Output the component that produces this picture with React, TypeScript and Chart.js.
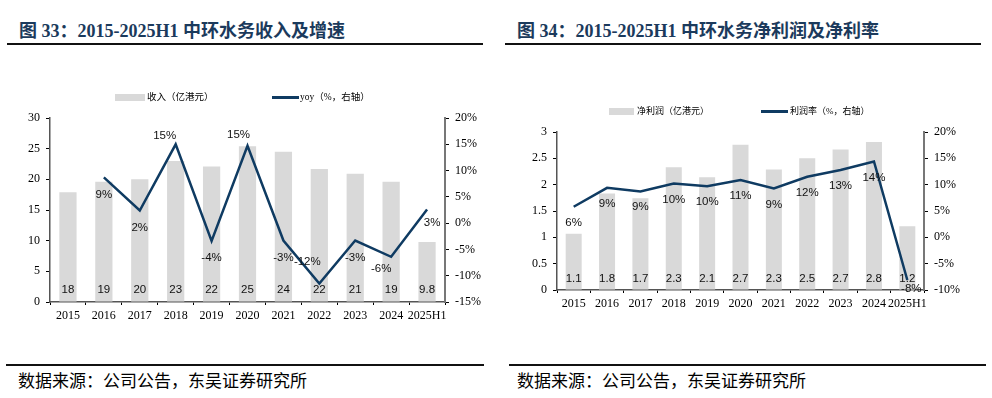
import React, { useEffect, useRef } from 'react';
import { Chart, registerables } from 'chart.js';

Chart.register(...registerables);

// ---------- Data ----------
const years = ['2015', '2016', '2017', '2018', '2019', '2020', '2021', '2022', '2023', '2024', '2025H1'];

// Chart 33: revenue (HK$100m) and yoy (%)
const revenue = [17.9, 19.6, 20.0, 23.0, 22.1, 25.4, 24.5, 21.7, 20.9, 19.6, 9.8];
const revenueLabels = ['18', '19', '20', '23', '22', '25', '24', '22', '21', '19', '9.8'];
const revenueYoy = [null, 8.7, 2.4, 15.0, -3.4, 14.7, -3.3, -11.5, -3.3, -6.4, 2.6];
const revenueYoyLabels = ['', '9%', '2%', '15%', '-4%', '15%', '-3%', '-12%', '-3%', '-6%', '3%'];

// Chart 34: net profit (HK$100m) and net margin (%)
const netProfit = [1.07, 1.83, 1.74, 2.33, 2.14, 2.76, 2.29, 2.5, 2.67, 2.81, 1.21];
const netProfitLabels = ['1.1', '1.8', '1.7', '2.3', '2.1', '2.7', '2.3', '2.5', '2.7', '2.8', '1.2'];
const netMargin = [5.8, 9.4, 8.7, 10.2, 9.7, 10.9, 9.3, 11.5, 12.8, 14.4, -8.1];
const netMarginLabels = ['6%', '9%', '9%', '10%', '10%', '11%', '9%', '12%', '13%', '14%', '-8%'];

// ---------- Styles ----------
const BAR = '#d9d9d9';
const LINE = '#0f3b62';
const TITLE = '#1b3a5c';
const SERIF = '"Liberation Serif", "Times New Roman", serif';
const CJK = '"Liberation Serif", "Noto Sans CJK SC", serif';

const leftLineOffsets: [number, number][] = [
  [0, 0], [0, 17], [0, 17], [-11, -8], [0, 17], [-9, -11], [0, 17], [-12, -22], [0, 17], [-10, 12], [5, 13],
];
const rightLineOffsets: [number, number][] = [
  [0, 16], [0, 16], [0, 15], [0, 16], [0, 16], [0, 16], [0, 16], [0, 16], [0, 16], [0, 16], [4, 9],
];

function makeLabelPlugin(barLabels: string[], lineLabels: string[], offsets: [number, number][], lift: number) {
  return {
    id: 'valueLabels',
    afterDatasetsDraw(chart: any) {
      const ctx = chart.ctx;
      ctx.save();
      ctx.font = '11.5px "Liberation Sans", Arial, sans-serif';
      ctx.fillStyle = '#111';
      ctx.textAlign = 'center';
      ctx.textBaseline = 'middle';
      const base = chart.scales.y.getPixelForValue(0);
      chart.getDatasetMeta(0).data.forEach((el: any, i: number) => {
        ctx.fillText(barLabels[i], el.x, base - lift);
      });
      chart.getDatasetMeta(1).data.forEach((el: any, i: number) => {
        const t = lineLabels[i];
        if (!t || el.skip) return;
        const [dx, dy] = offsets[i];
        ctx.fillText(t, el.x + dx, el.y + dy);
      });
      ctx.restore();
    },
  };
}

interface PanelCfg {
  bars: number[];
  line: (number | null)[];
  barLabels: string[];
  lineLabels: string[];
  offsets: [number, number][];
  lift: number;
  yMax: number;
  yStep: number;
  y1Min: number;
  y1Max: number;
  leftW: number;
  rightW: number;
  top: number;
  xH: number;
}

function ComboChart({ cfg, width, height }: { cfg: PanelCfg; width: number; height: number }) {
  const ref = useRef<HTMLCanvasElement | null>(null);
  useEffect(() => {
    if (!ref.current) return;
    const tickFont = { family: SERIF, size: 12 };
    const chart = new Chart(ref.current, {
      type: 'bar',
      data: {
        labels: years,
        datasets: [
          {
            type: 'bar',
            data: cfg.bars,
            backgroundColor: BAR,
            yAxisID: 'y',
            barPercentage: 0.48,
            categoryPercentage: 1,
            order: 2,
          } as any,
          {
            type: 'line',
            data: cfg.line,
            borderColor: LINE,
            backgroundColor: LINE,
            borderWidth: 2.5,
            pointRadius: 0,
            tension: 0,
            yAxisID: 'y1',
            order: 1,
          } as any,
        ],
      },
      options: {
        animation: false,
        responsive: false,
        maintainAspectRatio: false,
        layout: { padding: { top: cfg.top, left: 0, right: 0, bottom: 0 } },
        plugins: { legend: { display: false }, tooltip: { enabled: false } },
        scales: {
          x: {
            grid: { display: true, drawOnChartArea: false, drawTicks: true, tickLength: 3, color: '#000', offset: true },
            border: { display: true, color: '#555', width: 1.5 },
            ticks: { font: tickFont, color: '#000', padding: 4, maxRotation: 0, autoSkip: false },
            afterFit: (s: any) => { s.height = cfg.xH; },
          },
          y: {
            position: 'left',
            min: 0,
            max: cfg.yMax,
            ticks: { stepSize: cfg.yStep, font: tickFont, color: '#000', padding: 6, callback: (v: any) => String(Number(v)) },
            grid: { display: true, drawOnChartArea: false, drawTicks: true, tickLength: 4, color: '#000' },
            border: { display: true, color: '#555', width: 1.5 },
            afterFit: (s: any) => { s.width = cfg.leftW; },
          },
          y1: {
            position: 'right',
            min: cfg.y1Min,
            max: cfg.y1Max,
            ticks: { stepSize: 5, font: tickFont, color: '#000', padding: 6, callback: (v: any) => Number(v) + '%' },
            grid: { display: true, drawOnChartArea: false, drawTicks: true, tickLength: 4, color: '#000' },
            border: { display: true, color: '#777', width: 2 },
            afterFit: (s: any) => { s.width = cfg.rightW; },
          },
        },
      } as any,
      plugins: [makeLabelPlugin(cfg.barLabels, cfg.lineLabels, cfg.offsets, cfg.lift)],
    });
    return () => chart.destroy();
  }, []);
  return <canvas ref={ref} width={width} height={height} style={{ display: 'block', width, height }} />;
}

const abs = (s: React.CSSProperties): React.CSSProperties => ({ position: 'absolute', ...s });

function Legend({ boxX, boxW, textX, lineX, lineW, line2X, y, t1, t2, size }: any) {
  return (
    <>
      <div style={abs({ left: boxX, top: y - 3.5, width: boxW, height: 7, background: BAR })} />
      <div style={abs({ left: textX, top: y - 8, height: 16, lineHeight: '16px', fontSize: size, fontFamily: CJK, color: '#000', whiteSpace: 'nowrap' })}>{t1}</div>
      <div style={abs({ left: lineX, top: y - 1, width: lineW, height: 2.5, background: LINE })} />
      <div style={abs({ left: line2X, top: y - 8, height: 16, lineHeight: '16px', fontSize: size, fontFamily: CJK, color: '#000', whiteSpace: 'nowrap' })}>{t2}</div>
    </>
  );
}

export default function App() {
  const leftCfg: PanelCfg = {
    bars: revenue, line: revenueYoy, barLabels: revenueLabels, lineLabels: revenueYoyLabels,
    offsets: leftLineOffsets, lift: 12, yMax: 30, yStep: 5, y1Min: -15, y1Max: 20,
    leftW: 50, rightW: 51, top: 38, xH: 28,
  };
  const rightCfg: PanelCfg = {
    bars: netProfit, line: netMargin, barLabels: netProfitLabels, lineLabels: netMarginLabels,
    offsets: rightLineOffsets, lift: 11, yMax: 3, yStep: 0.5, y1Min: -10, y1Max: 20,
    leftW: 61, rightW: 68, top: 52, xH: 40,
  };
  const titleStyle: React.CSSProperties = {
    fontFamily: CJK, fontWeight: 'bold', fontSize: 18, color: TITLE, lineHeight: '24px', whiteSpace: 'nowrap',
  };
  const srcStyle: React.CSSProperties = {
    fontFamily: CJK, fontSize: 17, color: '#000', lineHeight: '22px', whiteSpace: 'nowrap',
  };
  return (
    <div style={abs({ left: 0, top: 0, width: 992, height: 398, background: '#fff', overflow: 'hidden' })}>
      <div style={abs({ left: 19, top: 19, ...titleStyle })}>图 33：2015-2025H1 中环水务收入及增速</div>
      <div style={abs({ left: 517, top: 19, ...titleStyle })}>图 34：2015-2025H1 中环水务净利润及净利率</div>
      <div style={abs({ left: 7, top: 43, width: 476, height: 2, background: '#111' })} />
      <div style={abs({ left: 505, top: 43, width: 476, height: 2, background: '#111' })} />

      <div style={abs({ left: 0, top: 80, width: 496, height: 250 })}>
        <ComboChart cfg={leftCfg} width={496} height={250} />
      </div>
      <div style={abs({ left: 496, top: 80, width: 496, height: 250 })}>
        <ComboChart cfg={rightCfg} width={496} height={250} />
      </div>

      <Legend boxX={115} boxW={30} textX={147} lineX={272} lineW={27} line2X={300} y={97}
        t1="收入（亿港元）" t2="yoy（%，右轴）" size={9.5} />
      <Legend boxX={609} boxW={25} textX={637} lineX={761} lineW={27} line2X={790} y={111}
        t1="净利润（亿港元）" t2="利润率（%，右轴）" size={9} />

      <div style={abs({ left: 6, top: 364, width: 478, height: 2, background: '#111' })} />
      <div style={abs({ left: 509, top: 364, width: 477, height: 2, background: '#111' })} />
      <div style={abs({ left: 18, top: 371, ...srcStyle })}>数据来源：公司公告，东吴证券研究所</div>
      <div style={abs({ left: 517, top: 371, ...srcStyle })}>数据来源：公司公告，东吴证券研究所</div>
    </div>
  );
}
